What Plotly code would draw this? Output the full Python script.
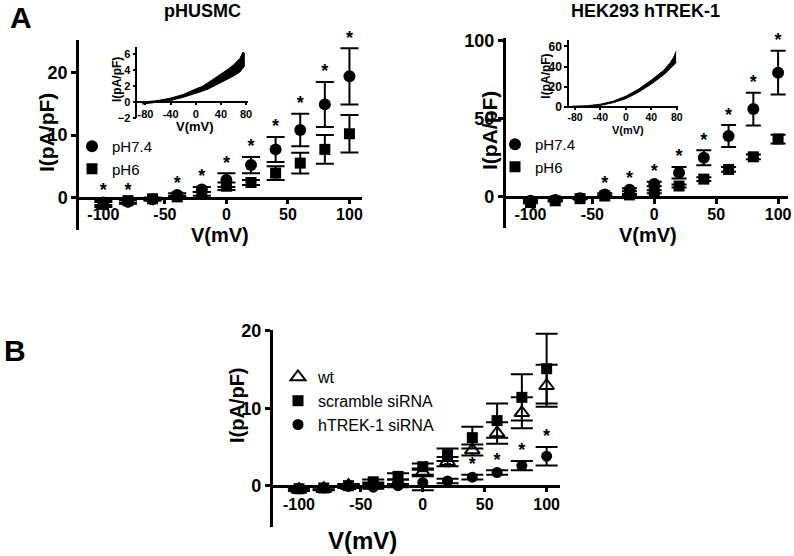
import plotly.graph_objects as go

# ---------------- data ----------------
V = [-100, -80, -60, -40, -20, 0, 20, 40, 60, 80, 100]
x_ticks = [-100, -50, 0, 50, 100]
x_ticktext = ["-100", "-50", "0", "50", "100"]

# Panel A left: pHUSMC
husmc_ph74 = [-0.8, -0.7, -0.3, 0.4, 1.3, 2.8, 5.2, 7.7, 10.8, 14.9, 19.4]
husmc_ph74_err = [0.4, 0.3, 0.2, 0.3, 0.4, 1.1, 1.3, 2.0, 2.6, 3.6, 4.5]
husmc_ph6 = [-1.1, -0.5, -0.2, 0.1, 0.6, 1.8, 2.4, 3.9, 5.5, 7.7, 10.2]
husmc_ph6_err = [0.4, 0.3, 0.2, 0.2, 0.3, 0.6, 0.4, 1.1, 1.65, 2.3, 3.0]
husmc_star_v = [-100, -80, -40, -20, 0, 20, 40, 60, 80, 100]
husmc_yticks = [0, 10, 20]

# Panel A left inset trace (envelope of the noisy recording)
husmc_trace_v = [-85, -80, -60, -40, -20, 0, 10, 20, 30, 40, 50, 60, 70, 75, 78]
husmc_trace_lo = [-0.3, -0.25, -0.1, 0.15, 0.55, 1.0, 1.3, 1.6, 2.0, 2.3, 2.8, 3.2, 3.7, 4.2, 4.5]
husmc_trace_hi = [-0.05, 0.0, 0.15, 0.45, 0.9, 1.6, 1.9, 2.4, 2.9, 3.4, 4.0, 4.6, 5.4, 6.2, 6.0]
husmc_inset_yticks = [-2, 0, 2, 4, 6]

# Panel A right: HEK293 hTREK-1
hek_ph74 = [-2.5, -2.0, -1.0, 1.5, 4.5, 8.2, 15.4, 25.0, 38.9, 56.2, 79.5]
hek_ph74_err = [0.5, 0.5, 0.5, 0.8, 1.0, 1.5, 3.7, 4.8, 7.0, 10.5, 14.0]
hek_ph6 = [-3.7, -2.6, -1.2, 0.5, 1.2, 3.2, 6.9, 11.3, 17.5, 25.6, 37.0]
hek_ph6_err = [0.4, 0.4, 0.4, 0.3, 0.5, 1.0, 1.0, 1.2, 1.5, 1.5, 2.8]
hek_star_v = [-40, -20, 0, 20, 40, 60, 80, 100]
hek_yticks = [0, 50, 100]

hek_trace_v = [-85, -60, -40, -20, 0, 20, 40, 60, 70, 75, 79]
hek_trace_lo = [0.0, 0.3, 1.3, 4.0, 8.0, 14.5, 22.5, 32.0, 38.0, 41.0, 44.0]
hek_trace_hi = [0.5, 1.0, 2.5, 5.5, 10.5, 17.5, 26.5, 36.5, 44.0, 49.0, 55.0]
hek_inset_yticks = [0, 20, 40, 60]
inset_xticks = [-80, -40, 0, 40, 80]
inset_xticktext = ["-80", "-40", "0", "40", "80"]

# Panel B
wt = [-0.5, -0.4, 0.0, 0.1, 0.4, 1.7, 3.1, 4.6, 6.8, 9.4, 12.9]
wt_err = [0.2, 0.2, 0.2, 0.3, 0.4, 0.5, 0.6, 0.7, 1.4, 2.0, 2.7]
scr = [-0.4, -0.3, 0.0, 0.5, 1.2, 2.45, 4.0, 6.2, 8.4, 11.4, 15.1]
scr_err = [0.2, 0.2, 0.2, 0.3, 0.4, 0.4, 0.8, 1.4, 2.2, 3.0, 4.5]
trek = [-0.4, -0.3, -0.1, -0.2, 0.0, 0.4, 0.6, 1.1, 1.7, 2.6, 3.8]
trek_err = [0.2, 0.2, 0.2, 0.2, 0.2, 1.0, 0.3, 0.3, 0.3, 0.6, 1.2]
trek_star_v = [20, 40, 60, 80, 100]
b_yticks = [0, 10, 20]

# ---------------- layout helpers ----------------
W, H = 794, 556
FONT = "Liberation Sans"


def fx(p):
    return p / W


def fy(p):
    return 1 - p / H


def star_y(vs, mean, err):
    return [mean[V.index(v)] + err[V.index(v)] for v in vs]


fig = go.Figure()


def add_series(xa, ya, y, err, symbol, size, name, legend, cap, color="black"):
    fig.add_trace(go.Scatter(
        x=V, y=y, mode="markers", name=name, legend=legend,
        xaxis=xa, yaxis=ya, cliponaxis=False,
        marker=dict(symbol=symbol, size=size, color=color,
                    line=dict(color="black", width=2 if color == "white" else 0)),
        error_y=dict(type="data", array=err, color="black", thickness=2, width=cap),
    ))


def add_stars(xa, ya, vs, mean, err):
    fig.add_trace(go.Scatter(
        x=vs, y=star_y(vs, mean, err), mode="text", text=["*"] * len(vs),
        textposition="top center", showlegend=False, cliponaxis=False,
        textfont=dict(family=FONT, size=18, color="black", weight="bold"),
        xaxis=xa, yaxis=ya, hoverinfo="skip",
    ))


def add_envelope(xa, ya, xs, lo, hi):
    fig.add_trace(go.Scatter(x=xs, y=lo, mode="lines", line=dict(color="black", width=1),
                             showlegend=False, xaxis=xa, yaxis=ya, cliponaxis=False))
    fig.add_trace(go.Scatter(x=xs, y=hi, mode="lines", line=dict(color="black", width=1),
                             fill="tonexty", fillcolor="black",
                             showlegend=False, xaxis=xa, yaxis=ya, cliponaxis=False))


# Panel A left
add_series("x", "y", husmc_ph74, husmc_ph74_err, "circle", 12, "pH7.4", "legend", 9)
add_series("x", "y", husmc_ph6, husmc_ph6_err, "square", 11, "pH6", "legend", 9)
add_stars("x", "y", husmc_star_v, husmc_ph74, husmc_ph74_err)

# Panel A right
add_series("x2", "y2", hek_ph74, hek_ph74_err, "circle", 12, "pH7.4", "legend2", 7.5)
add_series("x2", "y2", hek_ph6, hek_ph6_err, "square", 11, "pH6", "legend2", 7.5)
add_stars("x2", "y2", hek_star_v, hek_ph74, hek_ph74_err)

# Panel B
add_series("x3", "y3", wt, wt_err, "triangle-up", 13, "wt", "legend3", 11, color="white")
add_series("x3", "y3", scr, scr_err, "square", 11, "scramble siRNA", "legend3", 11)
add_series("x3", "y3", trek, trek_err, "circle", 11, "hTREK-1 siRNA", "legend3", 11)
add_stars("x3", "y3", trek_star_v, trek, trek_err)

# Insets
add_envelope("x4", "y4", husmc_trace_v, husmc_trace_lo, husmc_trace_hi)
add_envelope("x5", "y5", hek_trace_v, hek_trace_lo, hek_trace_hi)


def axes_pair(xdom_px, ydom_px, xr, yr, xtv, xtt, ytv, xfs, yfs, lw, tl, xstand):
    xd = [fx(xdom_px[0]), fx(xdom_px[1])]
    yd = [fy(ydom_px[1]), fy(ydom_px[0])]
    pos = yd[0] + (0 - yr[0]) / (yr[1] - yr[0]) * (yd[1] - yd[0])
    common = dict(showgrid=False, zeroline=False, showline=True, linecolor="black",
                  linewidth=lw, ticks="outside", ticklen=tl, tickwidth=lw, tickcolor="black")
    xa = dict(domain=xd, range=xr, tickvals=xtv, ticktext=xtt, anchor="free", position=pos,
              ticklabelstandoff=xstand,
              tickfont=dict(family=FONT, size=xfs, color="black", weight="bold"), **common)
    ya = dict(domain=yd, range=yr, tickvals=ytv,
              tickfont=dict(family=FONT, size=yfs, color="black", weight="bold"), **common)
    return xa, ya


xa1, ya1 = axes_pair((79, 362), (40, 230), [-119.8, 110.2], [-5.2, 25.2],
                     x_ticks, x_ticktext, husmc_yticks, 16, 18, 2.5, 5, -3)
xa2, ya2 = axes_pair((505.7, 788), (38, 228), [-120, 108], [-20, 101.7],
                     x_ticks, x_ticktext, hek_yticks, 16, 18, 2.5, 5, -3)
xa3, ya3 = axes_pair((272.7, 560), (330, 526.7), [-121.2, 110.8], [-5.3, 20.1],
                     x_ticks, x_ticktext, b_yticks, 16, 18, 2.5, 5, -2)
xa4, ya4 = axes_pair((137.3, 248), (47.3, 117.7), [-93, 83], [-2, 6.8],
                     inset_xticks, inset_xticktext, husmc_inset_yticks, 11, 11, 1.5, 3, -1)
xa5, ya5 = axes_pair((569, 678), (40.4, 108.2), [-89.5, 82], [-1.5, 66],
                     inset_xticks, inset_xticktext, hek_inset_yticks, 10.5, 12, 1.5, 3, -2)

ya1["anchor"] = "x"; ya2["anchor"] = "x2"; ya3["anchor"] = "x3"
ya4["anchor"] = "x4"; ya5["anchor"] = "x5"


def ann(text, xp, yp, size, bold=True, angle=0, xanchor="center"):
    return dict(text=text, x=fx(xp), y=fy(yp), xref="paper", yref="paper",
                showarrow=False, xanchor=xanchor, yanchor="middle", textangle=angle,
                font=dict(family=FONT, size=size, color="black", weight="bold" if bold else "normal"))


annotations = [
    ann("A", 8, 17, 30, xanchor="left"),
    ann("B", 2, 350, 30, xanchor="left"),
    ann("pHUSMC", 202, 11, 18),
    ann("HEK293 hTREK-1", 645, 11, 18),
    ann("I(pA/pF)", 46, 133, 21, angle=-90),
    ann("V(mV)", 220, 235, 20),
    ann("I(pA/pF)", 489, 130, 21, angle=-90),
    ann("V(mV)", 648, 235, 20),
    ann("I(pA/pF)", 237, 405, 20, angle=-90),
    ann("V(mV)", 362, 540, 24),
    ann("I(pA/pF)", 117, 80, 12, angle=-90),
    ann("V(mV)", 195, 126, 13),
    ann("I(pA/pF)", 546, 76.7, 12, angle=-90),
    ann("V(mV)", 628, 130, 11),
]


def leg(xp, yp, size):
    return dict(x=fx(xp), y=fy(yp), xanchor="left", yanchor="top", bgcolor="rgba(0,0,0,0)",
                borderwidth=0, font=dict(family=FONT, size=size, color="black"),
                traceorder="normal", itemclick=False, itemdoubleclick=False)


fig.update_layout(
    width=W, height=H, autosize=False,
    margin=dict(l=0, r=0, t=0, b=0, autoexpand=False),
    paper_bgcolor="white", plot_bgcolor="white",
    xaxis=xa1, yaxis=ya1, xaxis2=xa2, yaxis2=ya2, xaxis3=xa3, yaxis3=ya3,
    xaxis4=xa4, yaxis4=ya4, xaxis5=xa5, yaxis5=ya5,
    annotations=annotations,
    legend=leg(72, 130, 15),
    legend2=leg(495, 128, 15),
    legend3=leg(278, 360, 16),
    showlegend=True,
)

fig.write_html("out.html", config={"displayModeBar": False},
               post_script="document.body.style.margin='0';")
